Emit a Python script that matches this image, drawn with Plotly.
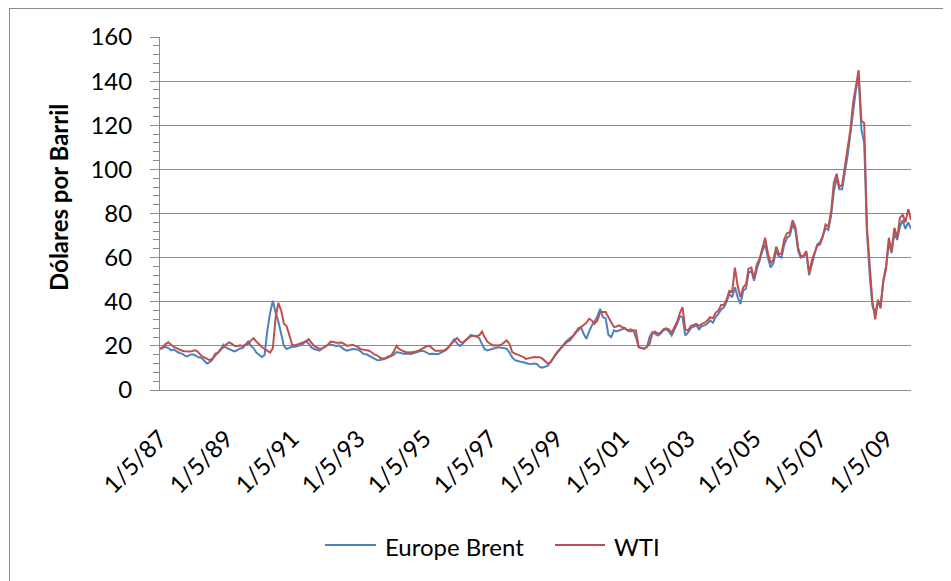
import pandas as pd
import plotly.graph_objects as go

# Monthly dates (May 1987 - Feb 2010)
dates = pd.date_range("1987-05-01", "2010-02-01", freq="MS")

# Europe Brent, USD per barrel
brent = [
    18.6, 19.0, 19.6, 19.0, 18.0, 18.3, 17.6, 16.8,                    # 1987 May-Dec
    16.5, 15.6, 15.2, 16.0, 16.2, 15.5, 14.8, 14.6, 13.4, 12.0, 12.6, 13.8,  # 1988
    16.5, 16.8, 18.0, 20.5, 19.2, 18.5, 18.0, 17.5, 18.0, 18.8, 19.0, 20.5,  # 1989
    22.0, 20.0, 19.0, 17.0, 16.2, 15.0, 15.8, 27.0, 35.0, 40.5, 35.0, 31.0,  # 1990
    25.5, 20.0, 18.6, 19.2, 19.6, 19.6, 20.0, 20.2, 21.0, 22.2, 21.0, 19.3,  # 1991
    18.6, 18.0, 17.8, 18.8, 19.5, 20.5, 20.6, 20.2, 20.0, 20.2, 19.2, 18.3,  # 1992
    17.8, 18.2, 18.6, 18.5, 18.4, 17.4, 16.3, 16.2, 15.6, 15.0, 14.3, 13.5,  # 1993
    13.6, 13.8, 14.2, 14.8, 15.5, 16.0, 17.2, 17.0, 16.5, 16.3, 16.5, 16.2,  # 1994
    16.6, 17.0, 17.2, 17.8, 17.6, 17.0, 16.3, 16.4, 16.3, 16.2, 16.8, 17.5,  # 1995
    18.2, 19.8, 21.5, 23.0, 21.0, 20.0, 21.0, 22.5, 23.5, 25.0, 24.5, 24.2,  # 1996
    23.5, 21.0, 18.5, 17.9, 18.4, 18.7, 19.0, 19.4, 19.2, 18.9, 18.7, 17.0,  # 1997
    14.8, 13.5, 13.0, 12.8, 12.6, 12.2, 11.9, 11.8, 12.0, 11.8, 10.5, 10.1,  # 1998
    10.6, 11.0, 12.8, 14.5, 16.5, 17.9, 19.5, 21.0, 22.5, 23.5, 24.7, 25.5,  # 1999
    28.0, 28.5, 25.5, 23.2, 26.5, 29.3, 31.0, 33.5, 36.8, 33.0, 32.3, 25.0,  # 2000
    24.0, 27.0, 26.5, 27.0, 27.7, 28.0, 27.0, 26.5, 27.0, 24.0, 19.4, 19.2,  # 2001
    18.7, 19.5, 24.0, 26.2, 25.5, 24.7, 25.5, 27.0, 27.5, 26.5, 24.7, 27.0,  # 2002
    30.0, 33.5, 33.0, 24.7, 26.0, 28.0, 28.5, 29.3, 27.5, 29.0, 29.3, 30.0,  # 2003
    31.5, 30.5, 33.0, 34.5, 36.5, 37.5, 40.0, 43.6, 42.0, 46.6, 42.0, 39.0,  # 2004
    45.0, 46.0, 53.0, 54.0, 49.5, 55.0, 58.5, 63.0, 66.0, 60.0, 55.5, 57.5,  # 2005
    63.0, 60.5, 60.0, 66.0, 69.0, 70.0, 75.0, 72.5, 63.0, 60.0, 60.5, 62.0,  # 2006
    52.0, 57.5, 61.5, 66.0, 67.0, 70.0, 73.5, 72.5, 79.0, 90.0, 96.0, 91.0,  # 2007
    91.0, 99.0, 106.0, 116.0, 127.0, 136.0, 142.0, 118.0, 112.0, 72.0, 52.0, 38.0,  # 2008
    35.0, 40.0, 38.0, 49.0, 55.0, 67.0, 62.0, 71.0, 68.0, 74.0, 77.0, 73.0,  # 2009
    76.0, 73.0,                                                        # 2010 Jan-Feb
]

# WTI, USD per barrel
wti = [
    18.7, 19.5, 20.8, 21.6, 20.5, 19.5, 19.0, 18.4,                    # 1987 May-Dec
    17.8, 17.6, 17.5, 17.4, 17.8, 18.0, 17.0, 15.5, 14.8, 14.2, 13.5, 14.2,  # 1988
    15.5, 17.0, 18.5, 19.3, 20.5, 21.6, 21.0, 20.0, 19.8, 20.3, 20.0, 20.6,  # 1989
    21.0, 22.5, 23.5, 22.0, 20.6, 19.5, 18.6, 17.8, 17.0, 19.0, 33.0, 39.5,  # 1990
    36.0, 30.0, 29.0, 25.0, 20.6, 20.2, 20.6, 21.0, 21.6, 22.0, 23.0, 21.5,  # 1991
    20.0, 19.3, 18.6, 19.0, 19.5, 20.5, 22.0, 21.8, 21.4, 21.4, 21.5, 20.8,  # 1992
    20.0, 20.3, 20.5, 20.0, 19.5, 18.5, 18.3, 18.0, 17.8, 17.0, 16.0, 15.6,  # 1993
    14.6, 14.2, 14.5, 15.2, 15.6, 17.5, 20.0, 18.5, 17.8, 17.3, 17.0, 17.0,  # 1994
    17.2, 17.5, 17.8, 18.5, 19.2, 19.8, 20.0, 19.0, 17.8, 17.8, 17.8, 17.8,  # 1995
    18.5, 19.5, 21.0, 22.5, 23.6, 22.0, 21.4, 22.5, 23.5, 24.4, 24.6, 24.4,  # 1996
    24.8, 26.5, 24.0, 22.0, 21.0, 20.2, 20.3, 20.2, 20.5, 21.5, 22.5, 21.0,  # 1997
    17.2, 16.5, 16.0, 15.6, 15.0, 14.1, 14.5, 14.9, 15.0, 14.9, 14.9, 14.2,  # 1998
    13.0, 11.9, 12.5, 14.9, 16.5, 18.0, 19.4, 20.5, 21.8, 22.5, 24.0, 26.2,  # 1999
    27.0, 28.5, 29.3, 30.5, 32.3, 31.5, 30.0, 31.5, 35.3, 35.3, 35.3, 33.0,  # 2000
    30.8, 28.5, 28.8, 29.3, 28.5, 28.0, 27.0, 27.5, 27.0, 27.0, 19.4, 19.0,  # 2001
    18.7, 19.5, 20.9, 25.5, 26.5, 25.5, 26.0, 27.5, 28.0, 27.5, 26.0, 28.5,  # 2002
    31.0, 35.0, 37.5, 27.5, 27.0, 29.0, 29.5, 30.0, 29.0, 30.0, 30.5, 31.5,  # 2003
    33.0, 32.5, 35.0, 36.0, 38.5, 38.5, 41.0, 45.0, 44.5, 55.5, 47.0, 42.0,  # 2004
    46.5, 48.0, 55.0, 55.5, 50.5, 57.0, 59.5, 65.0, 69.0, 62.0, 57.5, 59.0,  # 2005
    65.0, 61.5, 62.0, 68.5, 71.0, 71.5, 77.0, 74.0, 64.5, 60.5, 61.0, 63.0,  # 2006
    53.0, 59.0, 62.5, 65.5, 66.0, 69.5, 75.0, 74.0, 81.0, 94.0, 98.0, 92.0,  # 2007
    93.0, 101.0, 108.5, 118.0, 130.0, 138.0, 145.0, 122.0, 121.0, 74.0, 57.0, 40.0,  # 2008
    32.0, 41.0, 37.0, 50.0, 56.0, 69.0, 63.0, 73.5, 69.0, 78.0, 79.5, 76.0,  # 2009
    82.0, 77.0,                                                        # 2010 Jan-Feb
]

tick_dates = ["1987-05-01", "1989-05-01", "1991-05-01", "1993-05-01", "1995-05-01",
              "1997-05-01", "1999-05-01", "2001-05-01", "2003-05-01", "2005-05-01",
              "2007-05-01", "2009-05-01"]
tick_labels = ["1/5/87", "1/5/89", "1/5/91", "1/5/93", "1/5/95", "1/5/97",
               "1/5/99", "1/5/01", "1/5/03", "1/5/05", "1/5/07", "1/5/09"]

series_names = ["Europe Brent", "WTI"]
series_colors = ["#4F81BD", "#C0504D"]

fig = go.Figure()
for name, vals, col in zip(series_names, [brent, wti], series_colors):
    fig.add_trace(go.Scatter(x=dates[:len(vals)], y=vals, mode="lines", name=name,
                             line=dict(color=col, width=2), showlegend=False))

# page has an 8px body margin; work in page coordinates and shift by OFF
OFF = 8
W, H = 951 - OFF, 581 - OFF
L, R, T, B = 160 - OFF, 911 - OFF, 37 - OFF, 390 - OFF
pw, ph = R - L, B - T

def px(xp):  # page x -> paper
    return (xp - OFF - L) / pw

def py(yp):  # page y -> paper
    return (B - (yp - OFF)) / ph

grid = "#8C8C8C"
FS = 24

# legend drawn by hand (Excel-style long line samples)
legend_shapes = []
legend_notes = []
legend_pos = [(325, 376, 383), (555, 605, 612)]
for name, col, (x0, x1, xt) in zip(series_names, series_colors, legend_pos):
    legend_shapes.append(dict(type="line", xref="paper", yref="paper",
                              x0=px(x0), x1=px(x1), y0=py(545), y1=py(545),
                              line=dict(color=col, width=2)))
    legend_notes.append(dict(text=name, showarrow=False, xref="paper", yref="paper",
                             x=px(xt), y=py(546), xanchor="left", yanchor="middle",
                             font=dict(size=FS)))

fig.update_layout(
    width=W, height=H,
    margin=dict(l=L, r=W - R, t=T, b=H - B, autoexpand=False),
    paper_bgcolor="white", plot_bgcolor="white",
    font=dict(family="Lato, Carlito, sans-serif", size=FS, color="#000000"),
    showlegend=False,
    xaxis=dict(type="date", range=["1987-05-01", "2010-02-01"],
               tickvals=tick_dates, ticktext=tick_labels, tickangle=-45,
               showgrid=False, showline=True, linecolor=grid, linewidth=1,
               ticks="", zeroline=False, tickfont=dict(size=FS), ticklabelstandoff=24),
    yaxis=dict(range=[0, 160], dtick=20, showgrid=True, gridcolor=grid, gridwidth=1,
               showline=True, linecolor=grid, linewidth=1, ticks="outside",
               ticklen=9, tickcolor=grid, zeroline=False, tickfont=dict(size=FS),
               ticklabelstandoff=13,
               minor=dict(dtick=4, ticks="outside", ticklen=6, tickcolor=grid, showgrid=False)),
    annotations=[dict(text="<b>Dólares por Barril</b>", textangle=-90, showarrow=False,
                      xref="paper", yref="paper", x=px(59), y=py(198),
                      xanchor="center", yanchor="middle", font=dict(size=FS))] + legend_notes,
    shapes=[
        dict(type="line", xref="paper", yref="paper", x0=px(9), x1=px(970), y0=py(8.5), y1=py(8.5),
             line=dict(color="#8C8C8C", width=1)),
        dict(type="line", xref="paper", yref="paper", x0=px(9.5), x1=px(9.5), y0=py(8), y1=py(600),
             line=dict(color="#8C8C8C", width=1)),
    ] + legend_shapes,
)

fig.write_html("out.html")
